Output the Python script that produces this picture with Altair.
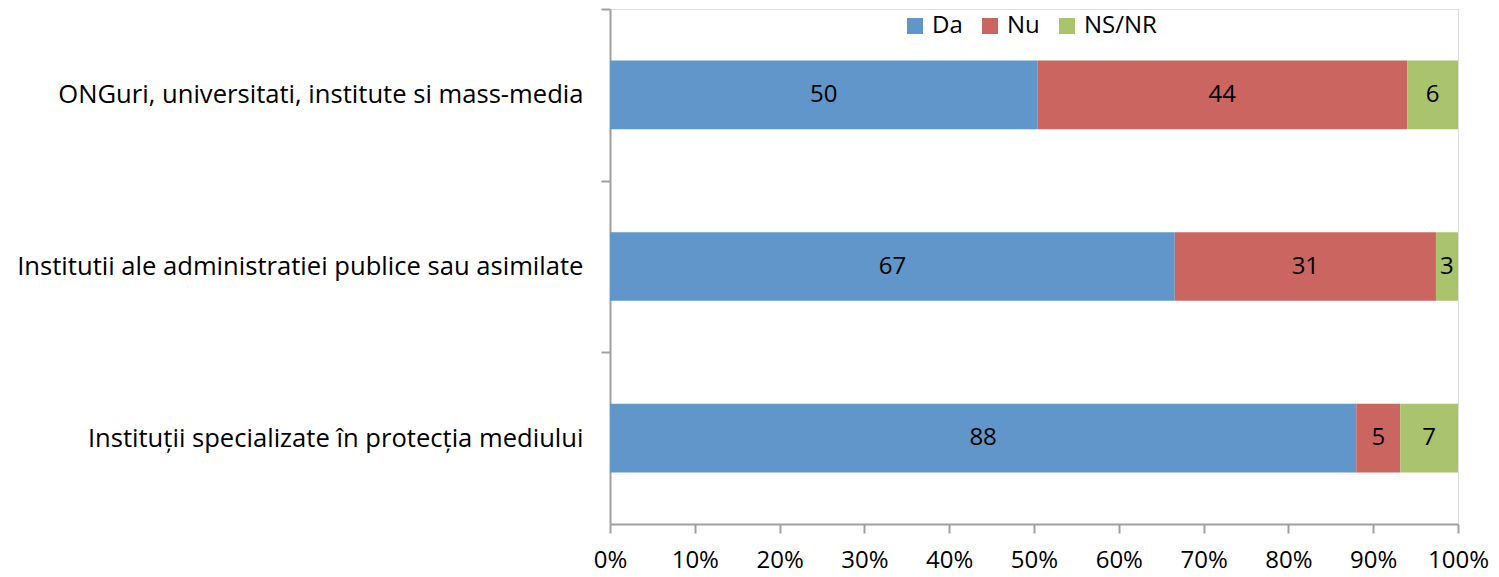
import altair as alt
import pandas as pd

categories = [
    "ONGuri, universitati, institute si mass-media",
    "Institutii ale administratiei publice sau asimilate",
    "Instituții specializate în protecția mediului",
]
series = ["Da", "Nu", "NS/NR"]
da = [50.4, 66.6, 88.0]
nu = [43.6, 30.8, 5.2]
nsnr = [6.0, 2.6, 6.8]
colors = ["#6096C9", "#CB6560", "#A9C46D"]

rows = []
for i, c in enumerate(categories):
    for j, (s, vals) in enumerate(zip(series, [da, nu, nsnr])):
        rows.append({"cat": c, "series": s, "order": j, "value": vals[i]})
df = pd.DataFrame(rows)

FONT = "Open Sans"
W, H = 848, 515
step = H / 3

base = alt.Chart(df).transform_stack(
    stack="value", groupby=["cat"], as_=["x0", "x1"], offset="normalize",
    sort=[alt.SortField("order", order="ascending")],
).transform_calculate(mid="(datum.x0 + datum.x1) / 2")

y_enc = alt.Y(
    "cat:N", sort=categories, title=None,
    scale=alt.Scale(paddingInner=0.6, paddingOuter=0.3),
    axis=alt.Axis(
        labelFont=FONT, labelFontSize=25.6, labelColor="#000000", labelLimit=700,
        domainColor="#A0A0A0", domainWidth=2, tickColor="#A0A0A0", tickWidth=2,
        tickSize=9, labelPadding=18, tickOffset=-step / 2, labelOffset=step / 2,
    ),
)

bars = base.mark_bar().encode(
    y=y_enc,
    x=alt.X(
        "x0:Q", title=None,
        scale=alt.Scale(domain=[0, 1], nice=False),
        axis=alt.Axis(
            format="%", values=[i / 10 for i in range(11)], grid=False,
            labelFlush=False, labelOverlap=False,
            labelFont=FONT, labelFontSize=24, labelColor="#000000",
            domainColor="#A0A0A0", domainWidth=2, tickColor="#A0A0A0", tickWidth=2,
            tickSize=9, labelPadding=15,
        ),
    ),
    x2="x1:Q",
    color=alt.Color(
        "series:N", sort=series, title=None,
        scale=alt.Scale(domain=series, range=colors),
        legend=alt.Legend(
            orient="none", direction="horizontal", legendX=293, legendY=5,
            symbolType="square", symbolSize=256, symbolStrokeWidth=0,
            labelFont=FONT, labelFontSize=24, labelColor="#000000",
            columnPadding=15, labelOffset=5,
        ),
    ),
)

labels = base.mark_text(font=FONT, fontSize=24, color="#000000").encode(
    y=alt.Y("cat:N", sort=categories),
    x=alt.X("mid:Q"),
    text=alt.Text("value:Q", format=".0f"),
)

chart = alt.layer(bars, labels).properties(
    width=W, height=H,
    autosize=alt.AutoSizeParams(type="none"),
    padding={"left": 602, "top": 1, "right": 33, "bottom": 58},
).configure_view(stroke=None).configure(background="white")

chart.save("out.html", embed_options={"renderer": "svg", "actions": False})
